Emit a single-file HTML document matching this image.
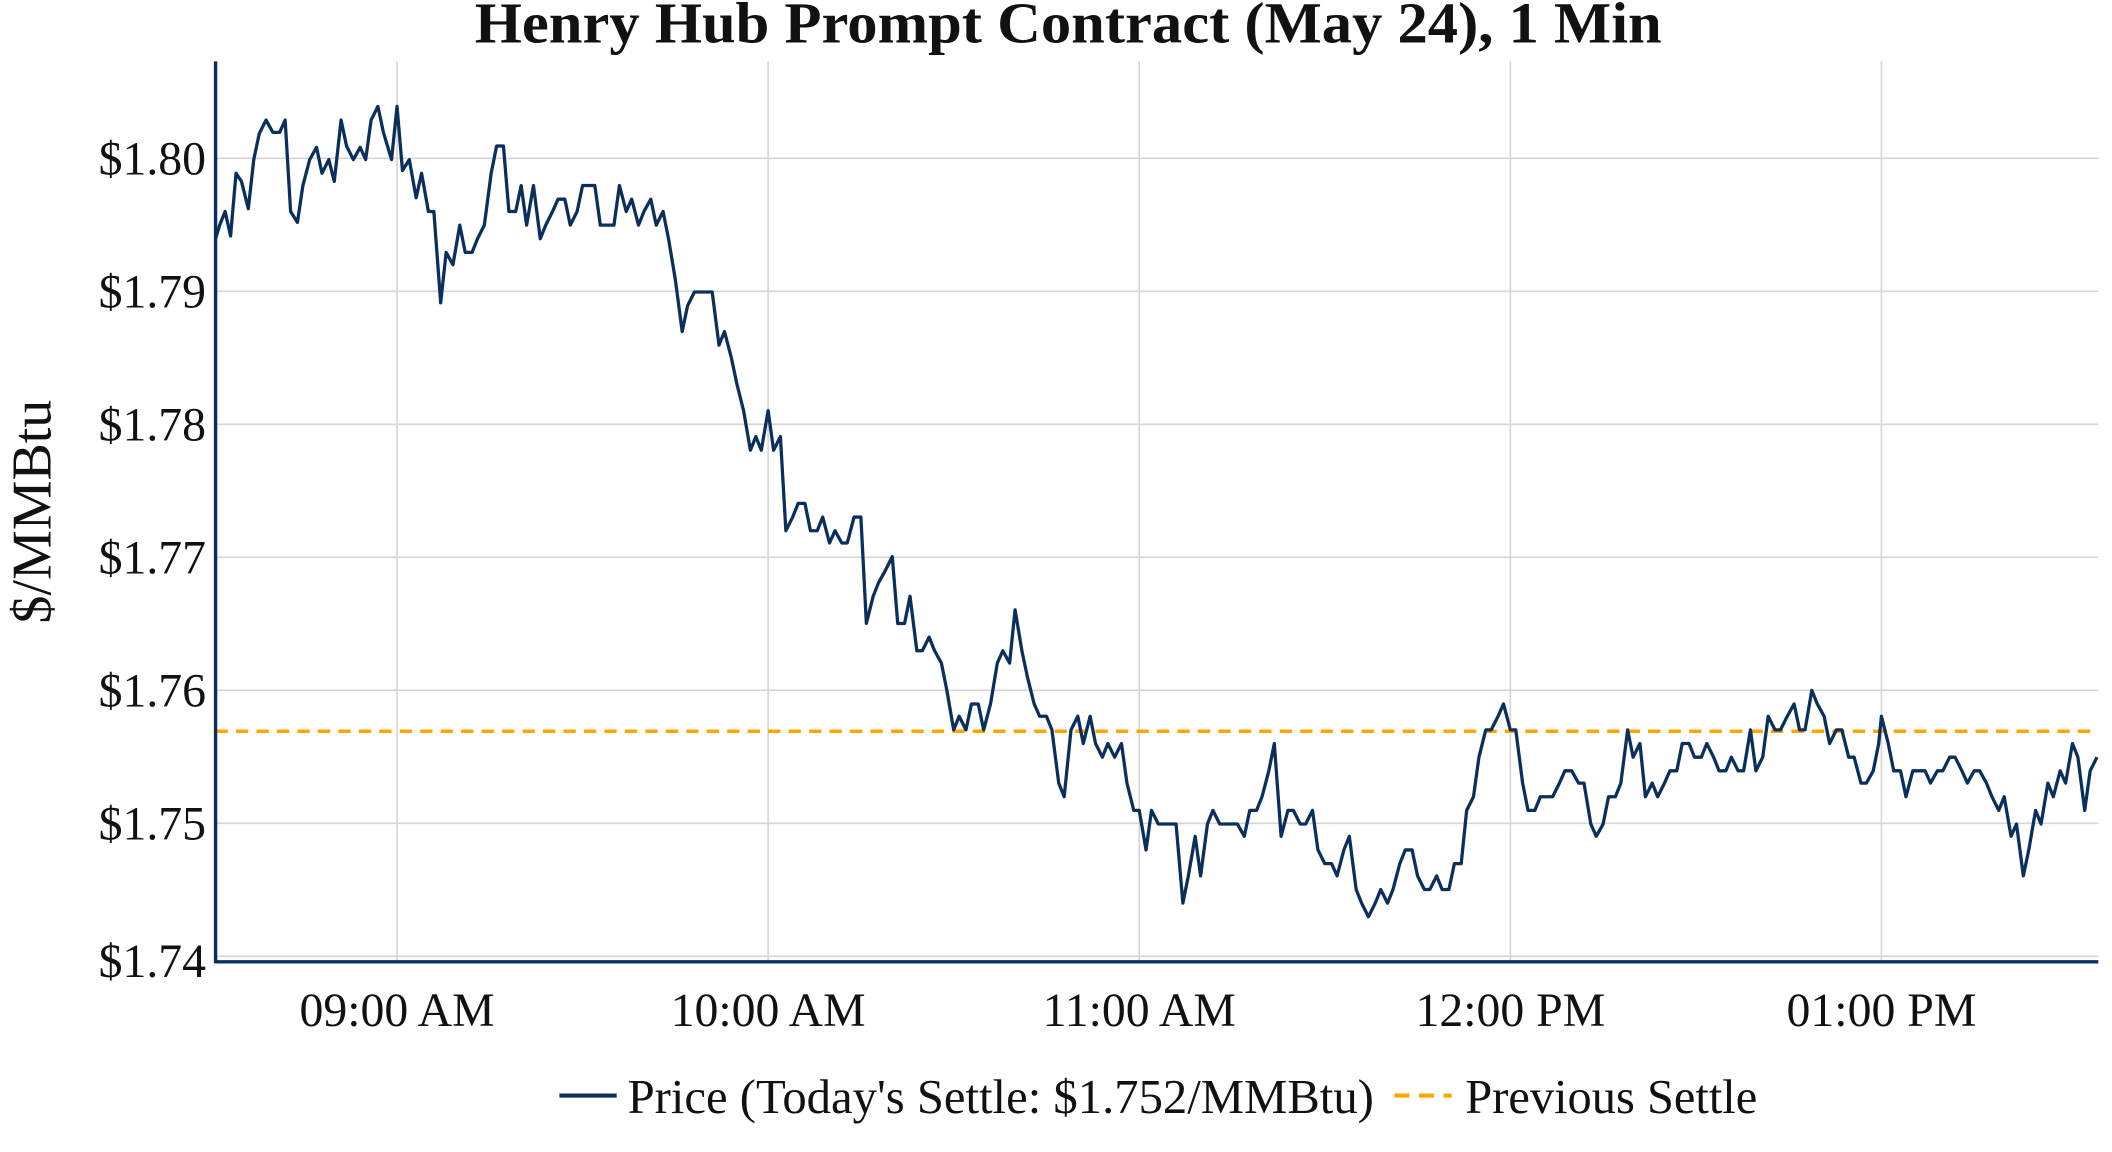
<!DOCTYPE html>
<html><head><meta charset="utf-8"><style>
html,body{margin:0;padding:0;background:#fff;}
svg{display:block;}
text{font-family:"Liberation Serif",serif;fill:#111;}
</style></head><body>
<svg width="2112" height="1152" viewBox="0 0 1548 844.4" preserveAspectRatio="none" xmlns="http://www.w3.org/2000/svg">
<rect width="1548" height="845" fill="#fff"/>
<g stroke="#d6d6d6" stroke-width="1.2">
<line x1="158" x2="1538" y1="116" y2="116"/><line x1="158" x2="1538" y1="213.5" y2="213.5"/>
<line x1="158" x2="1538" y1="311" y2="311"/><line x1="158" x2="1538" y1="408.5" y2="408.5"/>
<line x1="158" x2="1538" y1="506" y2="506"/><line x1="158" x2="1538" y1="603.5" y2="603.5"/>
<line x1="158" x2="1538" y1="701" y2="701"/>
<line x1="291" x2="291" y1="45" y2="705"/><line x1="563" x2="563" y1="45" y2="705"/>
<line x1="835" x2="835" y1="45" y2="705"/><line x1="1107" x2="1107" y1="45" y2="705"/>
<line x1="1379" x2="1379" y1="45" y2="705"/>
</g>
<line x1="158" x2="1538" y1="536" y2="536" stroke="#ffa500" stroke-width="2.5" stroke-dasharray="9,6"/>
<polyline fill="none" stroke="#0b2f5c" stroke-width="2.4" stroke-linejoin="round" points="158,175 161,165 165,155 169,173 173,127 177,133 182,153 186,117 190,98 195,88 200,97 205,97 209,88 213,155 218,163 222,136 227,117 232,108 236,127 241,117 245,133 250,88 254,107 259,117 264,108 268,117 272,88 277,78 281,97 287,117 291,78 295,125 300,117 305,145 309,127 314,155 318,155 323,222 327,185 332,194 337,165 341,185 346,185 350,175 355,165 360,127 364,107 369,107 373,155 378,155 382,136 386,165 391,136 396,175 400,165 405,155 409,146 414,146 418,165 423,155 427,136 432,136 436,136 440,165 445,165 450,165 454,136 459,155 463,146 468,165 472,155 477,146 481,165 486,155 490,175 495,205 500,243 504,224 509,214 513,214 518,214 522,214 527,253 531,243 536,262 540,281 545,301 550,330 554,320 558,330 563,301 567,330 572,320 576,389 581,379 585,369 590,369 594,389 599,389 603,379 608,398 612,389 617,398 621,398 626,379 631,379 635,457 640,437 644,427 649,418 654,408 658,457 663,457 667,437 672,477 676,477 681,467 685,477 690,486 694,506 699,535 703,525 708,535 712,516 717,516 721,535 726,516 731,486 735,477 740,486 744,447 749,477 753,496 758,516 762,525 767,525 771,535 776,574 780,584 785,535 790,525 794,545 799,525 803,545 808,555 812,545 817,555 822,545 826,574 831,594 835,594 840,623 844,594 849,604 853,604 858,604 862,604 867,662 871,642 876,613 880,642 885,604 889,594 894,604 898,604 903,604 907,604 912,613 916,594 921,594 925,584 930,565 934,545 939,613 944,594 948,594 953,604 957,604 962,594 966,623 971,633 976,633 980,642 985,623 989,613 994,652 998,662 1003,672 1008,662 1012,652 1017,662 1021,652 1026,633 1030,623 1035,623 1039,642 1044,652 1048,652 1053,642 1057,652 1062,652 1066,633 1071,633 1075,594 1080,584 1084,555 1089,535 1093,535 1098,525 1102,516 1107,535 1111,535 1116,574 1120,594 1125,594 1129,584 1134,584 1138,584 1143,574 1147,565 1152,565 1157,574 1161,574 1166,604 1170,613 1175,604 1179,584 1184,584 1188,574 1193,535 1197,555 1202,545 1206,584 1211,574 1215,584 1220,574 1224,565 1229,565 1233,545 1238,545 1242,555 1247,555 1251,545 1256,555 1260,565 1265,565 1269,555 1274,565 1278,565 1283,535 1287,565 1292,555 1296,525 1301,535 1305,535 1310,525 1315,516 1319,535 1323,535 1328,506 1332,516 1337,525 1341,545 1346,535 1350,535 1355,555 1359,555 1364,574 1368,574 1373,565 1377,545 1379,525 1384,545 1388,565 1393,565 1397,584 1402,565 1406,565 1411,565 1415,574 1420,565 1424,565 1429,555 1433,555 1438,565 1442,574 1447,565 1451,565 1456,574 1460,584 1465,594 1469,584 1474,613 1478,604 1483,642 1487,623 1492,594 1496,604 1501,574 1505,584 1510,565 1514,574 1519,545 1523,555 1528,594 1532,565 1537,555"/>
<line x1="158" x2="158" y1="45" y2="706" stroke="#0b2f5c" stroke-width="2.5"/>
<line x1="157" x2="1538" y1="705" y2="705" stroke="#0b2f5c" stroke-width="2.5"/>
<text x="783" y="31" text-anchor="middle" font-size="43" font-weight="bold" textLength="870" lengthAdjust="spacingAndGlyphs">Henry Hub Prompt Contract (May 24), 1 Min</text>
<g font-size="35" text-anchor="end">
<text x="151" y="128">$1.80</text><text x="151" y="225.5">$1.79</text><text x="151" y="323">$1.78</text>
<text x="151" y="420.5">$1.77</text><text x="151" y="518">$1.76</text><text x="151" y="615.5">$1.75</text>
<text x="151" y="716">$1.74</text>
</g>
<g font-size="35" text-anchor="middle">
<text x="291" y="752">09:00 AM</text><text x="563" y="752">10:00 AM</text><text x="835" y="752">11:00 AM</text>
<text x="1107" y="752">12:00 PM</text><text x="1379" y="752">01:00 PM</text>
</g>
<text transform="translate(37,375) rotate(-90)" font-size="41" text-anchor="middle">$/MMBtu</text>
<line x1="410" x2="452" y1="803" y2="803" stroke="#0b2f5c" stroke-width="3"/>
<text x="460" y="816" font-size="35.5" textLength="547" lengthAdjust="spacingAndGlyphs">Price (Today's Settle: $1.752/MMBtu)</text>
<line x1="1022" x2="1064" y1="803" y2="803" stroke="#ffa500" stroke-width="3" stroke-dasharray="11,7"/>
<text x="1074" y="816" font-size="35.5" textLength="214" lengthAdjust="spacingAndGlyphs">Previous Settle</text>
</svg>
</body></html>
